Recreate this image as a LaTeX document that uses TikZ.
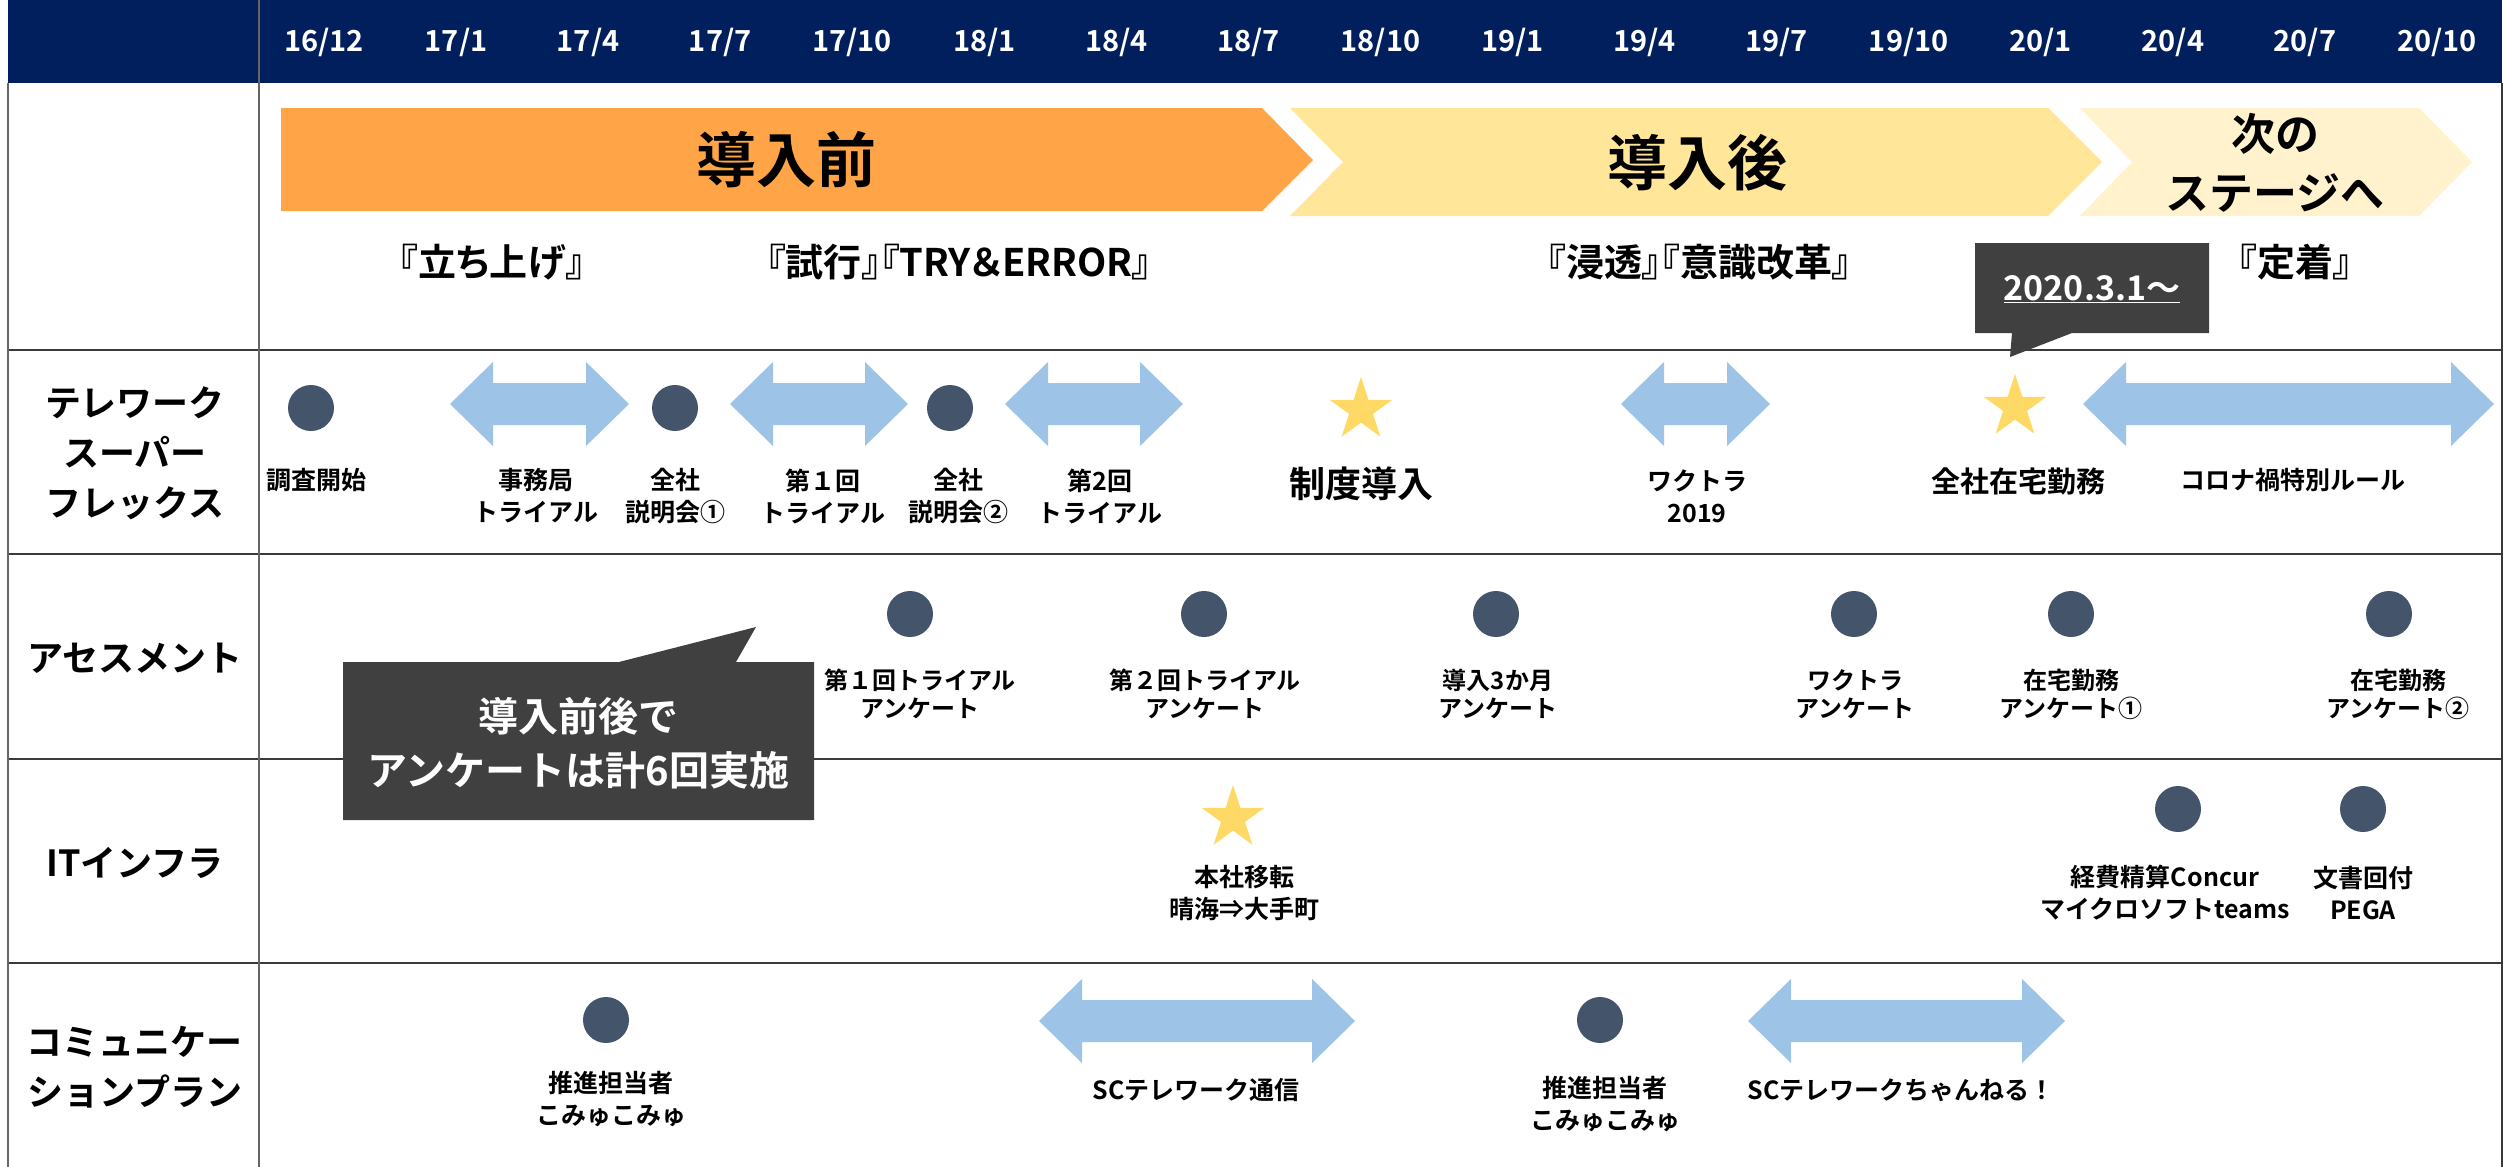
\documentclass[tikz,border=0pt]{standalone}
\usepackage{fontspec}
\setmainfont{Noto Sans CJK JP}[BoldFont={Noto Sans CJK JP Bold}]
\usetikzlibrary{shapes.geometric}
\definecolor{navy}{HTML}{001F5C}
\definecolor{orng}{HTML}{FFA547}
\definecolor{ylw}{HTML}{FFE699}
\definecolor{pale}{HTML}{FFF2CC}
\definecolor{arrc}{HTML}{9DC3E6}
\definecolor{dotc}{HTML}{44546A}
\definecolor{starc}{HTML}{FFD966}
\definecolor{callc}{HTML}{404040}
\definecolor{gridc}{HTML}{3A3A3A}
\newcommand{\darr}[3]{\fill[arrc] (#1,#3) -- (#1+43,#3-42) -- (#1+43,#3-21) -- (#2-43,#3-21) -- (#2-43,#3-42) -- (#2,#3) -- (#2-43,#3+42) -- (#2-43,#3+21) -- (#1+43,#3+21) -- (#1+43,#3+42) -- cycle;}
\begin{document}
\begin{tikzpicture}[x=1pt,y=-1pt,
  every node/.style={inner sep=0pt},
  hdr/.style={text=white, font=\bfseries\fontsize{29}{34}\selectfont},
  lab/.style={align=center, font=\bfseries\fontsize{25}{32}\selectfont},
  labs/.style={align=center, font=\bfseries\fontsize{24}{28}\selectfont},
  rowlab/.style={align=center, font=\bfseries\fontsize{36}{50}\selectfont},
  phase/.style={font=\bfseries\fontsize{38}{44}\selectfont\addfontfeatures{RawFeature=+palt}},
  big/.style={align=center, font=\bfseries\fontsize{60}{70}\selectfont},
  dot/.style={circle, fill=dotc, minimum size=46pt},
  starn/.style={star, star points=5, star point ratio=2.618, fill=starc, minimum size=66pt},
  gline/.style={draw=gridc, line width=1.8pt},
  vline/.style={draw=gray!80!black, line width=1.5pt}]
\useasboundingbox (0,0) rectangle (2504,1167);
\fill[white] (0,0) rectangle (2504,1167);
% header
\fill[navy] (8,0) rectangle (2502,83);
\foreach \lab [count=\i from 0] in {16/12,17/1,17/4,17/7,17/10,18/1,18/4,18/7,18/10,19/1,19/4,19/7,19/10,20/1,20/4,20/7,20/10}
  \node[hdr] (h\i) at (324+132.06*\i,42) {\lab};
% grid
\foreach \yy in {350,554,759,963} \draw[gline] (8,\yy) -- (2502,\yy);
\draw[vline] (259,0) -- (259,1167);
\draw[vline] (8,83) -- (8,1167);
\draw[gline] (2502,83) -- (2502,1167);
% chevrons
\fill[orng] (281,108) -- (1262,108) -- (1313,160) -- (1262,211) -- (281,211) -- cycle;
\fill[ylw] (1290,108) -- (2048,108) -- (2102,162) -- (2048,216) -- (1290,216) -- (1343,162) -- cycle;
\fill[pale] (2080,108) -- (2419,108) -- (2472,162) -- (2419,216) -- (2080,216) -- (2132,162) -- cycle;
\node[big] (pre) at (786,160) {導入前};
\node[big] (post) at (1697,163) {導入後};
\node[align=center, font=\bfseries\fontsize{44}{59}\selectfont] (next) at (2275,163) {次の\\ステージへ};
% phases
\node[phase] (p1) at (492,262) {『立ち上げ』};
\node[phase] (p2) at (959,262) {『試行』『TRY＆ERROR』};
\node[phase] (p3) at (1699,262) {『浸透』『意識改革』};
\node[phase] (p4) at (2295,262) {『定着』};
% callout 2020
\fill[callc] (1975,243) -- (2209,243) -- (2209,333) -- (2072,333) -- (2010,357) -- (2012,333) -- (1975,333) -- cycle;
\node[text=white, font=\bfseries\fontsize{34}{40}\selectfont] (c1) at (2092,289) {\underline{2020.3.1～}};
% row labels
\node[rowlab] (r1) at (135,453) {テレワーク\\スーパー\\フレックス};
\node[rowlab] (r2) at (135,658) {アセスメント};
\node[rowlab] (r3) at (135,863) {ITインフラ};
\node[rowlab] (r4) at (135,1067) {コミュニケー\\ションプラン};
% row 1
\darr{450}{629}{404}
\darr{730}{908}{404}
\darr{1005}{1183}{404}
\darr{1621}{1770}{404}
\darr{2083}{2494}{404}
\node[dot] (d1) at (311,408) {};
\node[dot] (d2) at (675,408) {};
\node[dot] (d3) at (950,408) {};
\node[starn] (s1) at (1361,410) {};
\node[starn] (s2) at (2015,407) {};
\node[lab] (l1) at (316,480) {調査開始};
\node[lab] (l2) at (536,496) {事務局\\トライアル};
\node[lab] (l3) at (675,496) {全社\\説明会①};
\node[lab] (l4) at (823,496) {第１回\\トライアル};
\node[lab] (l5) at (958,496) {全社\\説明会②};
\node[lab] (l6) at (1100,496) {第2回\\トライアル};
\node[font=\bfseries\fontsize{36}{40}\selectfont] (l7) at (1361,484) {制度導入};
\node[lab] (l8) at (1697,496) {ワクトラ\\2019};
\node[font=\bfseries\fontsize{29}{34}\selectfont] (l9) at (2018,481) {全社在宅勤務};
\node[lab] (l10) at (2293,480) {コロナ禍特別ルール};
% row 2
\foreach \xx [count=\i] in {910,1204,1496,1854,2071,2389} \node[dot] (a\i) at (\xx,614) {};
\node[labs] (m1) at (920,694) {第１回トライアル\\アンケート};
\node[labs] (m2) at (1205,694) {第２回トライアル\\アンケート};
\node[labs] (m3) at (1498,694) {導入3か月\\アンケート};
\node[labs] (m4) at (1855,694) {ワクトラ\\アンケート};
\node[labs] (m5) at (2071,694) {在宅勤務\\アンケート①};
\node[labs] (m6) at (2398,694) {在宅勤務\\アンケート②};
% callout 2
\fill[callc] (343,662) -- (619,662) -- (756,627) -- (736,662) -- (814,662) -- (814,820) -- (343,820) -- cycle;
\node[align=center, text=white, font=\bfseries\fontsize{40}{54}\selectfont] (c2) at (578,743) {導入前後で\\アンケートは計6回実施};
% row 3
\node[starn] (s3) at (1233,818) {};
\node[dot] (i1) at (2178,809) {};
\node[dot] (i2) at (2363,809) {};
\node[lab] (n1) at (1244,893) {本社移転\\晴海⇒大手町};
\node[lab] (n2) at (2165,893) {経費精算Concur\\マイクロソフトteams};
\node[lab] (n3) at (2363,893) {文書回付\\PEGA};
% row 4
\darr{1039}{1355}{1021}
\darr{1748}{2065}{1021}
\node[dot] (k1) at (606,1020) {};
\node[dot] (k2) at (1600,1020) {};
\node[lab] (o1) at (611,1099) {推進担当者\\こみゅこみゅ};
\node[lab] (o2) at (1196,1090) {SCテレワーク通信};
\node[lab] (o3) at (1605,1104) {推進担当者\\こみゅこみゅ};
\node[lab] (o4) at (1901,1090) {SCテレワークちゃんねる！};
\end{tikzpicture}
\end{document}
